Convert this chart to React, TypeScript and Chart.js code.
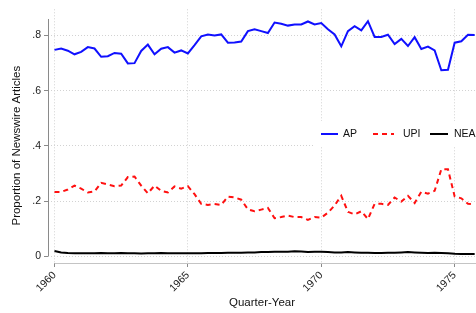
import React, { useEffect, useRef } from "react";
import { Chart, registerables } from "chart.js";
Chart.register(...registerables);

// ---- data (quarterly, 1960q1 .. 1975q4) ----
const startYear = 1960;
const seriesNames = ["AP", "UPI", "NEA"];
const AP = [
  0.748, 0.753, 0.745, 0.732, 0.741, 0.758, 0.753, 0.723, 0.725, 0.737,
  0.734, 0.699, 0.7, 0.744, 0.767, 0.732, 0.752, 0.758, 0.738, 0.746,
  0.735, 0.765, 0.797, 0.804, 0.8, 0.804, 0.774, 0.775, 0.778, 0.816,
  0.823, 0.816, 0.809, 0.847, 0.843, 0.836, 0.84, 0.84, 0.851, 0.84,
  0.845, 0.823, 0.804, 0.761, 0.816, 0.834, 0.819, 0.852, 0.795, 0.795,
  0.803, 0.769, 0.788, 0.762, 0.794, 0.751, 0.76, 0.746, 0.674, 0.676,
  0.774, 0.779, 0.803, 0.802,
];
const UPI = [
  0.233, 0.233, 0.242, 0.256, 0.245, 0.231, 0.235, 0.266, 0.26, 0.254,
  0.256, 0.287, 0.289, 0.256, 0.228, 0.256, 0.237, 0.231, 0.253, 0.245,
  0.254, 0.225, 0.19, 0.186, 0.189, 0.186, 0.216, 0.213, 0.205, 0.17,
  0.163, 0.169, 0.175, 0.138, 0.142, 0.147, 0.142, 0.142, 0.132, 0.142,
  0.14, 0.158, 0.184, 0.219, 0.161, 0.152, 0.163, 0.135, 0.19, 0.19,
  0.186, 0.213, 0.198, 0.219, 0.193, 0.234, 0.227, 0.237, 0.315, 0.315,
  0.217, 0.21, 0.19, 0.189,
];
const NEA = [
  0.019, 0.014, 0.012, 0.011, 0.011, 0.011, 0.011, 0.012, 0.011, 0.011,
  0.012, 0.011, 0.011, 0.01, 0.011, 0.011, 0.012, 0.011, 0.011, 0.011,
  0.011, 0.011, 0.011, 0.012, 0.012, 0.012, 0.013, 0.013, 0.013, 0.014,
  0.014, 0.015, 0.015, 0.016, 0.016, 0.016, 0.018, 0.017, 0.015, 0.016,
  0.016, 0.015, 0.014, 0.014, 0.015, 0.014, 0.013, 0.013, 0.012, 0.012,
  0.013, 0.013, 0.014, 0.015, 0.014, 0.013, 0.012, 0.013, 0.012, 0.011,
  0.009, 0.008, 0.008, 0.008,
];
const xTicks = [1960, 1965, 1970, 1975];
const yTicks = [0, 0.2, 0.4, 0.6, 0.8];
const yTickLabels = ["0", ".2", ".4", ".6", ".8"];
const xTitle = "Quarter-Year";
const yTitle = "Proportion of Newswire Articles";

const FONT = "'Liberation Sans', Arial, Helvetica, sans-serif";

const toPoints = (arr: number[]) => arr.map((v, i) => ({ x: startYear + i / 4, y: v }));

const yTitlePlugin = {
  id: "yTitle",
  afterDraw(chart: any) {
    const ctx = chart.ctx;
    const { top, bottom } = chart.chartArea;
    ctx.save();
    ctx.translate(17, (top + bottom) / 2 + 9.5);
    ctx.rotate(-Math.PI / 2);
    ctx.font = `11.5px ${FONT}`;
    ctx.fillStyle = "#111";
    ctx.textAlign = "center";
    ctx.textBaseline = "middle";
    ctx.fillText(yTitle, 0, 0);
    ctx.restore();
  },
};

const axisLinesPlugin = {
  id: "axisLines",
  beforeDatasetsDraw(chart: any) {
    const ctx = chart.ctx;
    const { x, y } = chart.scales;
    const area = chart.chartArea;
    ctx.save();
    ctx.lineWidth = 1;
    ctx.strokeStyle = "#8a8a8a";
    ctx.beginPath();
    ctx.moveTo(area.left + 0.5, y.getPixelForValue(0.86));
    ctx.lineTo(area.left + 0.5, y.getPixelForValue(0));
    ctx.stroke();
    ctx.strokeStyle = "#c4c4c4";
    ctx.beginPath();
    ctx.moveTo(x.getPixelForValue(xTicks[0]), area.bottom + 0.5);
    ctx.lineTo(area.right, area.bottom + 0.5);
    ctx.stroke();
    ctx.restore();
  },
};

const legendPlugin = {
  id: "insideLegend",
  afterDatasetsDraw(chart: any) {
    const ctx = chart.ctx;
    const area = chart.chartArea;
    const boxLeft = area.right - 161;
    const cy = 134;
    ctx.save();
    ctx.fillStyle = "#ffffff";
    ctx.fillRect(boxLeft, cy - 13, area.right - boxLeft, 25);
    const items = [
      { lineX: 321, lineW: 17, textX: 343 },
      { lineX: 373, lineW: 21, textX: 403 },
      { lineX: 430, lineW: 18, textX: 454 },
    ];
    chart.data.datasets.forEach((ds: any, i: number) => {
      const it = items[i];
      ctx.strokeStyle = ds.borderColor;
      ctx.lineWidth = ds.borderWidth;
      ctx.setLineDash(ds.borderDash || []);
      ctx.beginPath();
      ctx.moveTo(it.lineX, cy);
      ctx.lineTo(it.lineX + it.lineW, cy);
      ctx.stroke();
      ctx.setLineDash([]);
      ctx.fillStyle = "#111";
      ctx.font = `10.5px ${FONT}`;
      ctx.textAlign = "left";
      ctx.textBaseline = "middle";
      ctx.fillText(ds.label, it.textX, cy);
    });
    ctx.restore();
  },
};

export default function App() {
  const ref = useRef<HTMLCanvasElement>(null);
  useEffect(() => {
    if (!ref.current) return;
    Chart.defaults.font.family = FONT;
    const chart = new Chart(ref.current, {
      type: "line",
      data: {
        datasets: [
          {
            label: seriesNames[0],
            data: toPoints(AP),
            borderColor: "#1010ff",
            borderWidth: 2,
            pointRadius: 0,
            tension: 0,
            fill: false,
          },
          {
            label: seriesNames[1],
            data: toPoints(UPI),
            borderColor: "#ff1010",
            borderWidth: 2,
            borderDash: [5, 4],
            pointRadius: 0,
            tension: 0,
            fill: false,
          },
          {
            label: seriesNames[2],
            data: toPoints(NEA),
            borderColor: "#000000",
            borderWidth: 2,
            pointRadius: 0,
            tension: 0,
            fill: false,
          },
        ],
      },
      options: {
        animation: false,
        responsive: false,
        layout: { padding: 0 },
        plugins: { legend: { display: false }, tooltip: { enabled: false } },
        scales: {
          x: {
            type: "linear",
            min: 1959.757,
            max: 1975.8,
            afterBuildTicks: (s: any) => {
              s.ticks = xTicks.map((v) => ({ value: v }));
            },
            afterFit: (s: any) => {
              s.height = 50;
            },
            ticks: {
              minRotation: 45,
              maxRotation: 45,
              padding: 2,
              color: "#222",
              font: { size: 10.5 },
              callback: (v: any) => String(v),
            },
            grid: {
              color: "#d2d2d2",
              tickLength: 4,
              tickColor: "#8a8a8a",
              tickBorderDash: [],
            },
            border: { display: false, dash: [1, 2] },
            title: {
              display: true,
              text: xTitle,
              color: "#111",
              font: { size: 11.5 },
              padding: { top: 0, bottom: 3 },
            },
          },
          y: {
            min: -7 / 286,
            max: 256 / 286,
            afterBuildTicks: (s: any) => {
              s.ticks = yTicks.map((v) => ({ value: v }));
            },
            afterFit: (s: any) => {
              s.width = 48;
            },
            ticks: {
              padding: 3,
              color: "#222",
              font: { size: 10.5 },
              callback: (v: any) => {
                const idx = yTicks.findIndex((t) => Math.abs(t - v) < 1e-9);
                return idx >= 0 ? yTickLabels[idx] : "";
              },
            },
            grid: {
              color: "#d2d2d2",
              tickLength: 4,
              tickColor: "#8a8a8a",
              tickBorderDash: [],
            },
            border: { display: false, dash: [1, 2] },
          },
        },
      },
      plugins: [axisLinesPlugin, legendPlugin, yTitlePlugin],
    } as any);
    return () => chart.destroy();
  }, []);
  return (
    <canvas
      ref={ref}
      width={476}
      height={313}
      style={{ position: "absolute", left: 0, top: 0, width: 476, height: 313 }}
    />
  );
}
